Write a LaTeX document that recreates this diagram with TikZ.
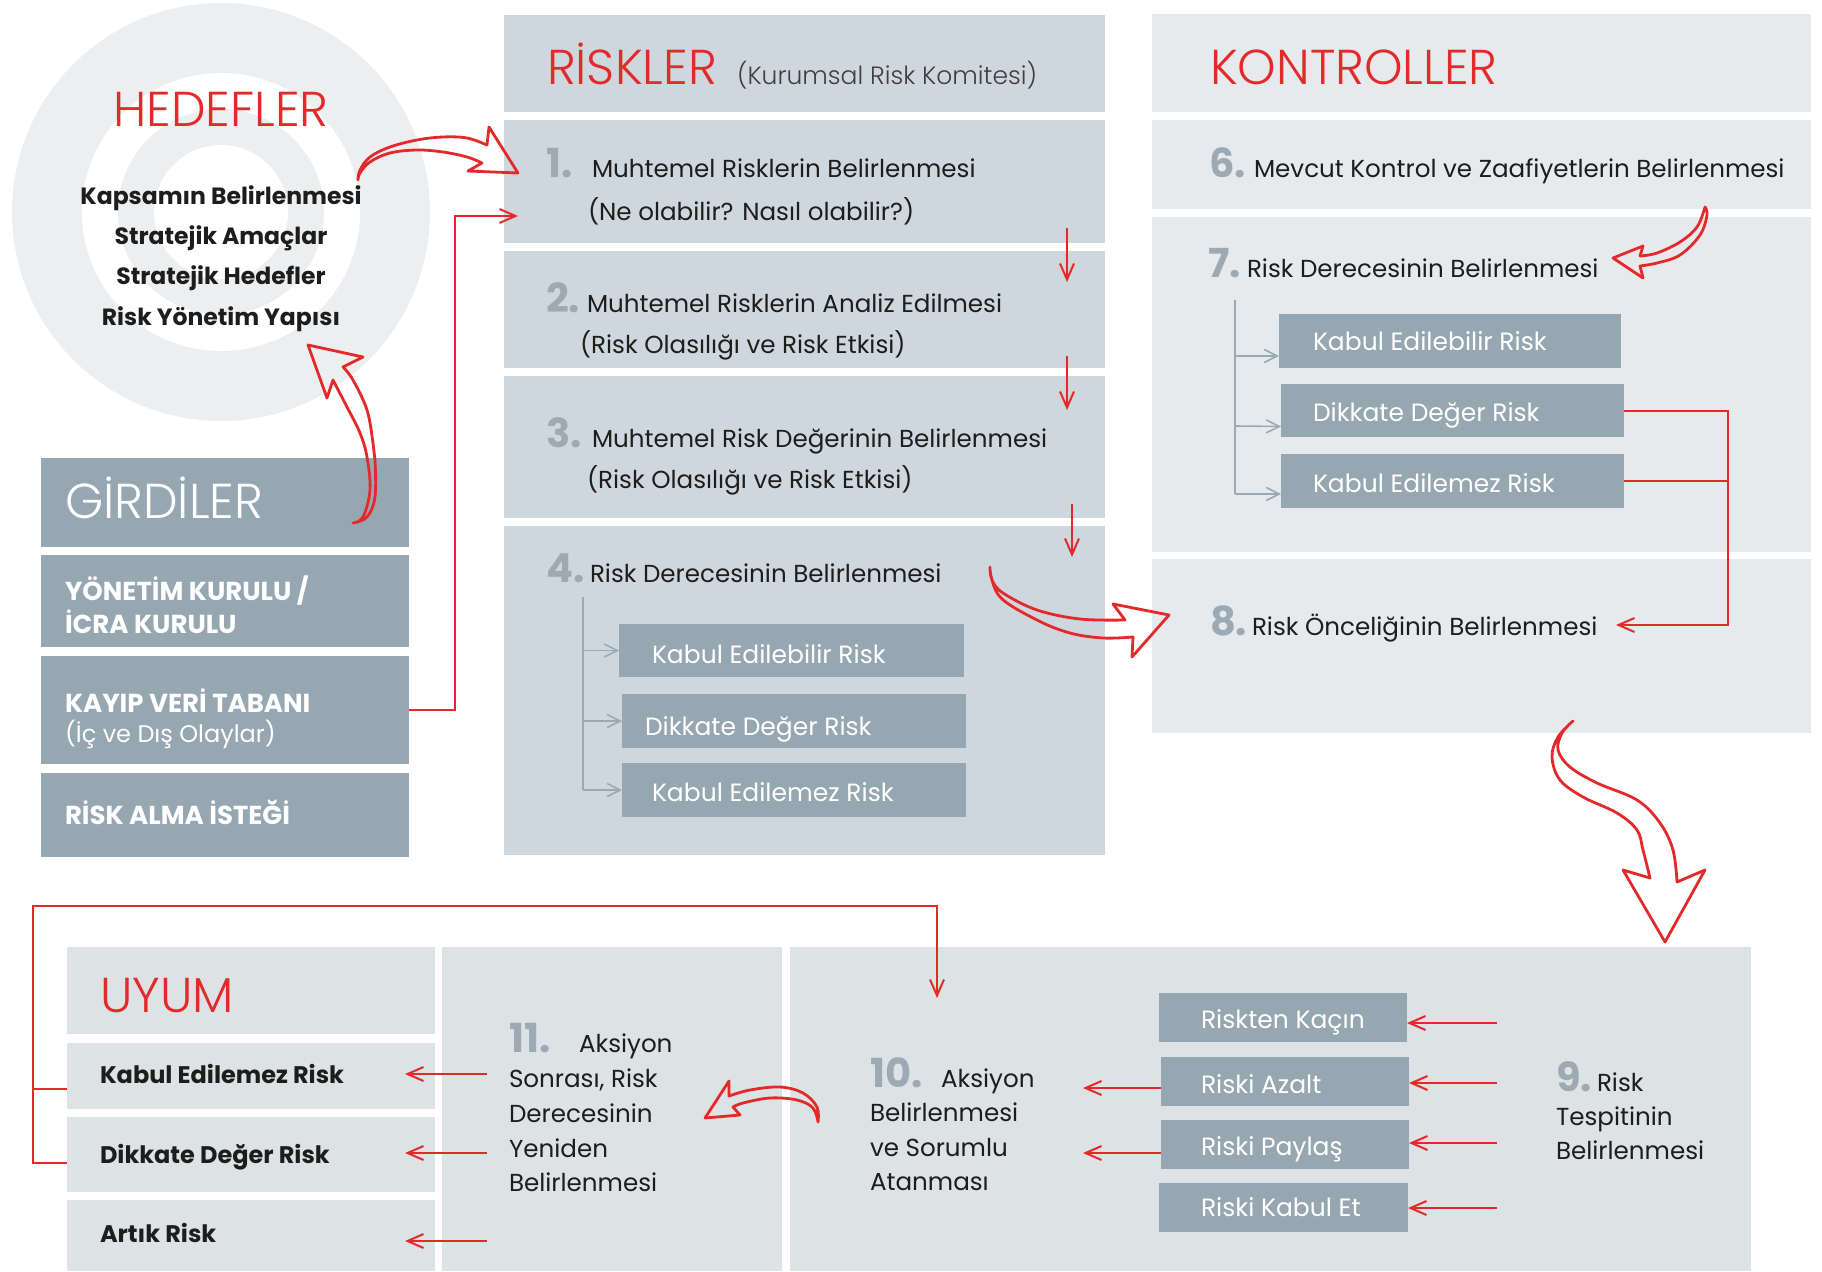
\documentclass[tikz,border=0pt]{standalone}
\usepackage{fontspec}
\setmainfont{Poppins}
\IfFontExistsTF{Poppins Light}{\newfontfamily\lightfont{Poppins Light}}{\newfontfamily\lightfont{Poppins}}
\usetikzlibrary{arrows.meta}
\definecolor{rred}{RGB}{228,41,42}
\definecolor{boxdark}{HTML}{97A7B1}
\definecolor{colR}{HTML}{CFD7DE}
\definecolor{colK}{HTML}{E7EAED}
\definecolor{colB}{HTML}{DDE2E5}
\definecolor{circg}{HTML}{EDEEF0}
\definecolor{numg}{HTML}{9DAAB4}
\definecolor{txt}{HTML}{1D1D1B}
\definecolor{treeg}{HTML}{9AA9B3}
\newcommand\mybox[6]{\node[#2,anchor=north west,minimum width={(#5-#3)*1pt},minimum height={(#6-#4)*1pt}] (#1) at (#3,#4) {};}
\tikzset{
  bxR/.style={fill=colR,inner sep=0,outer sep=0,draw=none},
  bxK/.style={fill=colK,inner sep=0,outer sep=0,draw=none},
  bxB/.style={fill=colB,inner sep=0,outer sep=0,draw=none},
  bxD/.style={fill=boxdark,inner sep=0,outer sep=0,draw=none},
  tb/.style={inner sep=0,outer sep=0,anchor=base west},
  body/.style={tb,font=\fontsize{24.6}{30}\selectfont,text=txt},
  wbody/.style={tb,font=\fontsize{25}{30}\selectfont,text=white},
  head/.style={tb,font=\lightfont\fontsize{49}{58}\selectfont,text=rred},
  whead/.style={tb,font=\lightfont\fontsize{49}{58}\selectfont,text=white},
  num/.style={tb,font=\bfseries\fontsize{40}{48}\selectfont,text=numg},
  bold/.style={tb,font=\bfseries\fontsize{24}{29}\selectfont,text=txt},
  cbold/.style={tb,font=\bfseries\fontsize{23.5}{29}\selectfont,text=txt},
  wbold/.style={tb,font=\bfseries\fontsize{26}{31}\selectfont,text=white},
  sub/.style={tb,font=\lightfont\fontsize{25}{30}\selectfont,text=txt!85},
  redline/.style={draw=rred,line width=2pt},
  redarrow/.style={draw=rred,line width=2pt,-{Straight Barb[length=16pt,width=14pt]}},
  treeline/.style={draw=treeg,line width=1.6pt},
  treearrow/.style={draw=treeg,line width=1.6pt,-{Straight Barb[length=13pt,width=13pt]}},
  hollow/.style={draw=rred,line width=2.8pt,line join=round,line cap=round}
}
\begin{document}
\begin{tikzpicture}[x=1pt,y=-1pt]
\useasboundingbox (0,0) rectangle (1822,1271);
% target circles
\fill[circg] (221,212) circle (209pt);
\fill[white] (221,212) circle (139pt);
\fill[circg] (221,212) circle (103pt);
\fill[white] (221,212) circle (67pt);
\node[head,anchor=base] (hed) at (221,127) {HEDEFLER};
\node[cbold,anchor=base] (h1) at (221,204) {Kapsamın Belirlenmesi};
\node[cbold,anchor=base] (h2) at (221,244) {Stratejik Amaçlar};
\node[cbold,anchor=base] (h3) at (221,284) {Stratejik Hedefler};
\node[cbold,anchor=base] (h4) at (221,325) {Risk Yönetim Yapısı};

% GIRDILER
\mybox{g0}{bxD}{41}{458}{409}{547}
\mybox{g1}{bxD}{41}{555}{409}{647}
\mybox{g2}{bxD}{41}{656}{409}{764}
\mybox{g3}{bxD}{41}{773}{409}{857}
\node[whead] (gt) at (65,518) {GİRDİLER};
\node[wbold] (g1a) at (65,600) {YÖNETİM KURULU /};
\node[wbold] (g1b) at (65,633) {İCRA KURULU};
\node[wbold] (g2a) at (65,712) {KAYIP VERİ TABANI};
\node[wbody,font=\fontsize{24}{29}\selectfont] (g2b) at (65,742) {(İç ve Dış Olaylar)};
\node[wbold] (g3a) at (65,824) {RİSK ALMA İSTEĞİ};

% RISKLER column
\mybox{rh}{bxR}{504}{15}{1105}{112}
\mybox{r1}{bxR}{504}{120}{1105}{243}
\mybox{r2}{bxR}{504}{251}{1105}{368}
\mybox{r3}{bxR}{504}{376}{1105}{518}
\mybox{r4}{bxR}{504}{526}{1105}{855}
\mybox{r4a}{bxD}{619}{624}{964}{677}
\mybox{r4b}{bxD}{622}{694}{966}{748}
\mybox{r4c}{bxD}{622}{763}{966}{817}
\node[head] (rt) at (547,85) {RİSKLER};
\node[sub] (rts) at (737,85) {(Kurumsal Risk Komitesi)};
\node[num] (n1) at (546,177) {1.};
\node[body] (t1) at (592,177) {Muhtemel Risklerin Belirlenmesi};
\node[body] (t1b) at (588,220) {(Ne olabilir? Nasıl olabilir?)};
\node[num] (n2) at (546,312) {2.};
\node[body] (t2) at (587,312) {Muhtemel Risklerin Analiz Edilmesi};
\node[body] (t2b) at (580,353) {(Risk Olasılığı ve Risk Etkisi)};
\node[num] (n3) at (546,447) {3.};
\node[body] (t3) at (592,447) {Muhtemel Risk Değerinin Belirlenmesi};
\node[body] (t3b) at (587,488) {(Risk Olasılığı ve Risk Etkisi)};
\node[num] (n4) at (546,582) {4.};
\node[body] (t4) at (590,582) {Risk Derecesinin Belirlenmesi};
\node[wbody] (s4a) at (652,663) {Kabul Edilebilir Risk};
\node[wbody] (s4b) at (645,735) {Dikkate Değer Risk};
\node[wbody] (s4c) at (652,801) {Kabul Edilemez Risk};
\coordinate (t4top) at (583,597);
\draw[treeline] (t4top) -- (t4top |- r4c.west);
\draw[treearrow] (t4top |- r4a.west) -- (r4a.west);
\draw[treearrow] (t4top |- r4b.west) -- (r4b.west);
\draw[treearrow] (t4top |- r4c.west) -- (r4c.west);
\coordinate (d1s) at (1067,228); \coordinate (d1e) at (1067,282);
\coordinate (d2s) at (1067,356); \coordinate (d2e) at (1067,410);
\coordinate (d3s) at (1072,504); \coordinate (d3e) at (1072,557);
\draw[redarrow] (d1s) -- (d1e);
\draw[redarrow] (d2s) -- (d2e);
\draw[redarrow] (d3s) -- (d3e);

% KONTROLLER column
\mybox{kh}{bxK}{1152}{14}{1811}{112}
\mybox{k6}{bxK}{1152}{120}{1811}{209}
\mybox{k7}{bxK}{1152}{217}{1811}{552}
\mybox{k8}{bxK}{1152}{559}{1811}{733}
\mybox{k7a}{bxD}{1279}{314}{1621}{368}
\mybox{k7b}{bxD}{1281}{384}{1624}{437}
\mybox{k7c}{bxD}{1281}{454}{1624}{508}
\node[head] (kt) at (1210,85) {KONTROLLER};
\node[num] (n6) at (1209,177) {6.};
\node[body] (t6) at (1254,177) {Mevcut Kontrol ve Zaafiyetlerin Belirlenmesi};
\node[num] (n7) at (1208,277) {7.};
\node[body] (t7) at (1247,277) {Risk Derecesinin Belirlenmesi};
\node[wbody] (s7a) at (1313,350) {Kabul Edilebilir Risk};
\node[wbody] (s7b) at (1313,421) {Dikkate Değer Risk};
\node[wbody] (s7c) at (1313,492) {Kabul Edilemez Risk};
\node[num] (n8) at (1210,635) {8.};
\node[body] (t8) at (1252,635) {Risk Önceliğinin Belirlenmesi};
\coordinate (t7top) at (1235,300);
\draw[treeline] (t7top) -- (1235,494);
\draw[treearrow] (1235,356) -- ([yshift=-15pt]k7a.west);
\draw[treearrow] (1235,426) -- ([yshift=-16pt]k7b.west);
\draw[treearrow] (1235,494) -- ([yshift=-13pt]k7c.west);
\coordinate (jx) at (1728,0);
\coordinate (a8) at (1616,625);
\draw[redarrow] (k7b.east) -- (k7b.east -| jx) |- (a8);
\draw[redline] (k7c.east) -- (k7c.east -| jx);

% bottom
\mybox{uh}{bxB}{67}{947}{435}{1034}
\mybox{u1}{bxB}{67}{1043}{435}{1109}
\mybox{u2}{bxB}{67}{1117}{435}{1192}
\mybox{u3}{bxB}{67}{1200}{435}{1271}
\mybox{c11}{bxB}{442}{947}{782}{1271}
\mybox{c10}{bxB}{790}{947}{1751}{1271}
\mybox{b1}{bxD}{1159}{993}{1407}{1042}
\mybox{b2}{bxD}{1161}{1057}{1409}{1106}
\mybox{b3}{bxD}{1161}{1120}{1409}{1169}
\mybox{b4}{bxD}{1159}{1183}{1408}{1232}
\node[head] (ut) at (100,1012) {UYUM};
\node[bold] (u1t) at (100,1083) {Kabul Edilemez Risk};
\node[bold] (u2t) at (100,1163) {Dikkate Değer Risk};
\node[bold] (u3t) at (100,1242) {Artık Risk};
\node[num] (n11) at (509,1052) {11.};
\node[body] (t11a) at (579,1052) {Aksiyon};
\node[body] (t11b) at (509,1087) {Sonrası, Risk};
\node[body] (t11c) at (509,1122) {Derecesinin};
\node[body] (t11d) at (509,1157) {Yeniden};
\node[body] (t11e) at (509,1191) {Belirlenmesi};
\node[num] (n10) at (870,1087) {10.};
\node[body] (t10a) at (941,1087) {Aksiyon};
\node[body] (t10b) at (870,1121) {Belirlenmesi};
\node[body] (t10c) at (870,1156) {ve Sorumlu};
\node[body] (t10d) at (870,1190) {Atanması};
\node[num] (n9) at (1556,1091) {9.};
\node[body] (t9a) at (1597,1091) {Risk};
\node[body] (t9b) at (1556,1125) {Tespitinin};
\node[body] (t9c) at (1556,1159) {Belirlenmesi};
\node[wbody] (b1t) at (1201,1028) {Riskten Kaçın};
\node[wbody] (b2t) at (1201,1093) {Riski Azalt};
\node[wbody] (b3t) at (1201,1155) {Riski Paylaş};
\node[wbody] (b4t) at (1201,1216) {Riski Kabul Et};
% arrows into b boxes
\foreach \yy/\bb in {1023/b1,1083/b2,1143/b3,1208/b4}{
  \draw[redarrow] (1497,\yy) -- (\bb.east |- 0,\yy);
}
\draw[redarrow] (b2.west |- 0,1088) -- (1083,1088);
\draw[redarrow] (b3.west |- 0,1153) -- (1083,1153);
\foreach \yy in {1074,1153,1241}{
  \draw[redarrow] (487,\yy) -- (405,\yy);
}
% left loop line
\coordinate (ltop) at (33,906);
\coordinate (a10) at (937,998);
\draw[redline] ([yshift=-13pt]u1.west) -- ++(-34,0);
\draw[redarrow] ([yshift=-8pt]u2.west) -| (ltop) -| (a10);

% elbow from KAYIP to 1
\coordinate (a1) at (518,216);
\draw[redarrow] (g2.east) -- ++(46,0) |- (a1);

% hollow arrows
% HEDEFLER -> 1
\draw[hollow] plot[smooth,tension=0.6] coordinates {(358,180) (360,170) (370,157) (390,147) (417,140) (443,137) (467,138) (487,145)} -- (489,127) -- (518,173) -- (468,171) -- (482,163) -- plot[smooth,tension=0.6] coordinates {(482,163) (467,157) (443,152) (417,150) (390,153) (370,162) (360,173) (358,180)};
% GIRDILER -> HEDEFLER
\draw[hollow] plot[smooth,tension=0.6] coordinates {(353,523) (363,517) (370,490) (367,457) (360,433) (347,407) (333,380)} -- (327,398) -- (308,345) -- (363,357) -- (343,367) -- plot[smooth,tension=0.6] coordinates {(343,367) (353,380) (367,410) (373,443) (375,460) (375,497) (367,517) (353,523)};
% 4 -> 8
\draw[hollow] plot[smooth,tension=0.6] coordinates {(990,567) (992,580) (1003,593) (1037,610) (1080,619) (1125,620)} -- (1113,604) -- (1169,615) -- (1132,657) -- (1133,637) -- plot[smooth,tension=0.6] coordinates {(1133,637) (1103,638) (1070,633) (1037,620) (1000,597) (990,570)};
% 6 -> 7
\draw[hollow] plot[smooth,tension=0.6] coordinates {(1705,207) (1697,227) (1680,242) (1657,253) (1640,256)} -- (1643,246) -- (1613,258) -- (1643,278) -- (1640,266) -- plot[smooth,tension=0.6] coordinates {(1640,266) (1657,263) (1680,255) (1700,235) (1707,215) (1705,207)};
% 10 -> 11
\draw[hollow] plot[smooth,tension=0.6] coordinates {(818,1122) (817,1107) (803,1093) (780,1087) (750,1090) (729,1096)} -- (729,1081) -- (705,1118) -- (740,1115) -- (733,1107) -- plot[smooth,tension=0.6] coordinates {(733,1107) (743,1103) (770,1098) (797,1100) (813,1108) (818,1122)};
% 8 -> 9
\draw[hollow] plot[smooth,tension=0.6] coordinates {(1573,721) (1558,737) (1552,757) (1560,780) (1583,797) (1617,813) (1637,830) (1643,850) (1650,878)} -- (1623,870) -- (1665,942) -- (1705,870) -- (1677,882) -- plot[smooth,tension=0.6] coordinates {(1677,882) (1673,850) (1660,823) (1637,800) (1597,783) (1570,767) (1558,750) (1562,733) (1573,721)};
\end{tikzpicture}
\end{document}
